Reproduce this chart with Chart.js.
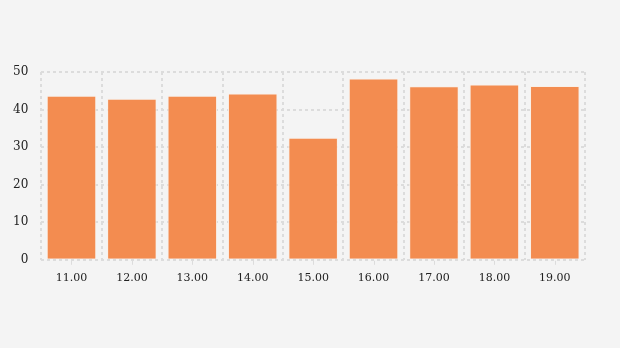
<!DOCTYPE html>
<html>
<head>
<meta charset="utf-8">
<script src="https://cdn.jsdelivr.net/npm/chart.js@4"></script>
<style>
    html, body { margin: 0; padding: 0; background: #f4f4f4; }
    #wrap { width: 620px; height: 348px; }
</style>
</head>
<body>
<div id="wrap"><canvas id="chart"></canvas></div>
<script>
    // chart data
    const categories = ['11.00', '12.00', '13.00', '14.00', '15.00', '16.00', '17.00', '18.00', '19.00'];
    const values = [43.7, 42.9, 43.7, 44.3, 32.5, 48.3, 46.2, 46.7, 46.3];
    const yTicks = [0, 10, 20, 30, 40, 50];

    const FONT = "'DejaVu Serif', serif";
    const GRID = '#dcdcdc';

    // small tick marks under the axis at each category centre
    const centreTicks = {
        id: 'centreTicks',
        afterDraw(chart) {
            const x = chart.scales.x;
            const ctx = chart.ctx;
            ctx.save();
            ctx.strokeStyle = GRID;
            ctx.lineWidth = 1;
            categories.forEach((c, i) => {
                const px = Math.round(x.getPixelForValue(i)) + 0.5;
                ctx.beginPath();
                ctx.moveTo(px, x.top + 1);
                ctx.lineTo(px, x.top + 5);
                ctx.stroke();
            });
            ctx.restore();
        }
    };

    new Chart(document.getElementById('chart'), {
        type: 'bar',
        data: {
            labels: categories,
            datasets: [{
                data: values,
                backgroundColor: '#f38c50',
                borderColor: '#f9f0e8',
                borderWidth: 1,
                barPercentage: 0.82,
                categoryPercentage: 1
            }]
        },
        options: {
            responsive: true,
            maintainAspectRatio: false,
            animation: false,
            layout: { padding: { top: 72, right: 35, left: 0, bottom: 51 } },
            plugins: {
                legend: { display: false },
                tooltip: { enabled: false }
            },
            scales: {
                x: {
                    grid: {
                        offset: true,
                        color: GRID,
                        lineWidth: 2,
                        drawTicks: false
                    },
                    border: { display: false, dash: [3, 3] },
                    ticks: {
                        color: '#222',
                        padding: 12,
                        font: { size: 11, family: FONT }
                    }
                },
                y: {
                    min: 0,
                    max: 50,
                    afterBuildTicks: (axis) => { axis.ticks = yTicks.map(v => ({ value: v })); },
                    grid: {
                        color: GRID,
                        lineWidth: 2,
                        drawTicks: false
                    },
                    border: { display: false, dash: [3, 3] },
                    ticks: {
                        color: '#222',
                        padding: 13,
                        font: { size: 12, family: FONT }
                    }
                }
            }
        },
        plugins: [centreTicks]
    });
</script>
</body>
</html>
